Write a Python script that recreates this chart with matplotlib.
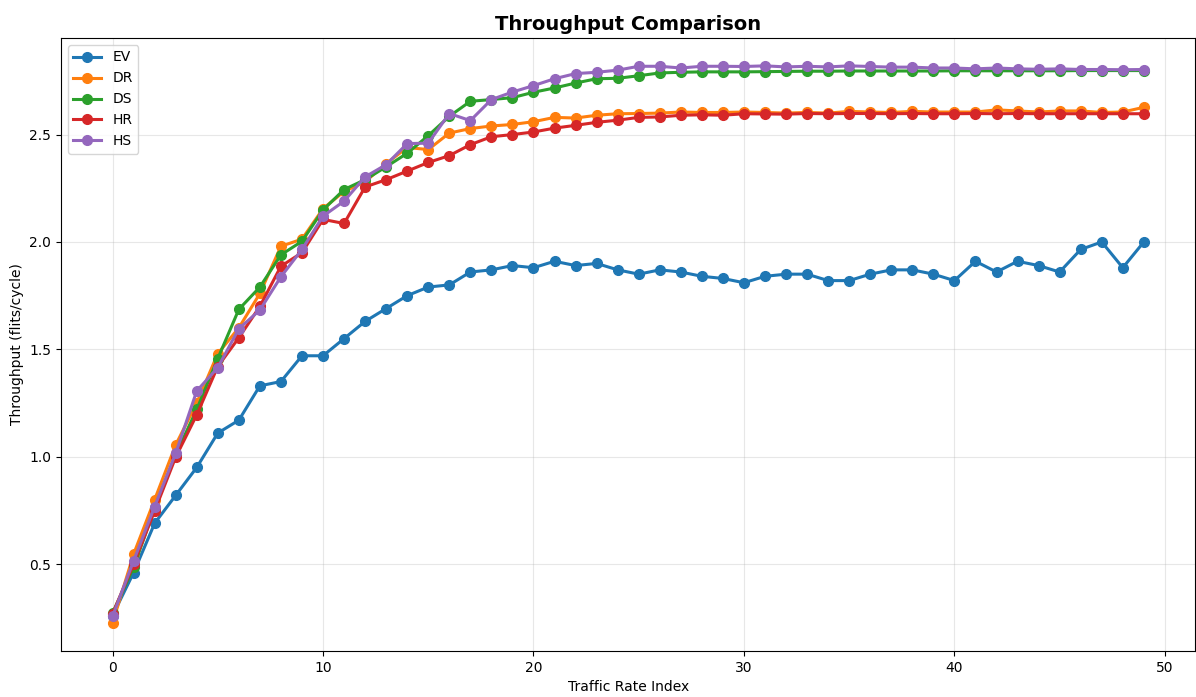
import numpy as np
import matplotlib
matplotlib.use('Agg')
import matplotlib.pyplot as plt

x = list(range(50))

ev = [0.26, 0.46, 0.69, 0.82, 0.95, 1.11, 1.17, 1.33, 1.35, 1.47,
      1.47, 1.55, 1.63, 1.69, 1.75, 1.79, 1.80, 1.86, 1.87, 1.89,
      1.88, 1.91, 1.89, 1.90, 1.87, 1.85, 1.87, 1.86, 1.84, 1.83,
      1.81, 1.84, 1.85, 1.85, 1.82, 1.82, 1.85, 1.87, 1.87, 1.85,
      1.82, 1.91, 1.86, 1.91, 1.89, 1.86, 1.965, 2.00, 1.88, 2.00]
dr = [0.225, 0.546, 0.80, 1.055, 1.25, 1.48, 1.60, 1.76, 1.98, 2.013,
      2.155, 2.235, 2.28, 2.365, 2.44, 2.43, 2.507, 2.528, 2.54, 2.547,
      2.56, 2.58, 2.577, 2.59, 2.597, 2.598, 2.60, 2.605, 2.603, 2.603,
      2.605, 2.603, 2.60, 2.603, 2.60, 2.608, 2.605, 2.603, 2.608, 2.605,
      2.605, 2.605, 2.615, 2.61, 2.605, 2.61, 2.61, 2.603, 2.605, 2.627]
ds = [0.272, 0.485, 0.76, 1.01, 1.22, 1.457, 1.686, 1.79, 1.94, 2.003,
      2.149, 2.244, 2.29, 2.35, 2.413, 2.495, 2.585, 2.655, 2.663, 2.672,
      2.697, 2.717, 2.74, 2.76, 2.762, 2.774, 2.787, 2.79, 2.792, 2.792,
      2.792, 2.793, 2.794, 2.795, 2.795, 2.796, 2.796, 2.796, 2.796, 2.796,
      2.797, 2.797, 2.797, 2.797, 2.797, 2.797, 2.798, 2.798, 2.798, 2.798]
hr = [0.268, 0.50, 0.748, 0.998, 1.195, 1.42, 1.554, 1.70, 1.887, 1.95,
      2.105, 2.086, 2.256, 2.29, 2.33, 2.37, 2.402, 2.453, 2.49, 2.50,
      2.512, 2.53, 2.543, 2.557, 2.567, 2.58, 2.582, 2.59, 2.592, 2.59,
      2.597, 2.596, 2.595, 2.598, 2.597, 2.598, 2.598, 2.597, 2.598, 2.597,
      2.597, 2.598, 2.597, 2.598, 2.597, 2.597, 2.597, 2.597, 2.597, 2.597]
hs = [0.257, 0.515, 0.768, 1.016, 1.306, 1.415, 1.596, 1.683, 1.838, 1.965,
      2.12, 2.19, 2.303, 2.36, 2.458, 2.46, 2.598, 2.565, 2.663, 2.698,
      2.728, 2.76, 2.784, 2.79, 2.80, 2.818, 2.818, 2.81, 2.818, 2.818,
      2.817, 2.82, 2.815, 2.818, 2.815, 2.82, 2.817, 2.814, 2.814, 2.81,
      2.81, 2.806, 2.81, 2.806, 2.804, 2.806, 2.803, 2.803, 2.802, 2.803]

labels = ['EV', 'DR', 'DS', 'HR', 'HS']
series = [ev, dr, ds, hr, hs]

fig, ax = plt.subplots(figsize=(11.96, 6.97), dpi=100)
for lab, vals in zip(labels, series):
    ax.plot(x, vals, marker='o', linewidth=2.2, markersize=7, label=lab)

ax.set_title('Throughput Comparison', fontsize=14, fontweight='bold')
ax.set_xlabel('Traffic Rate Index')
ax.set_ylabel('Throughput (flits/cycle)')
ax.grid(True, alpha=0.3)
ax.legend(loc='upper left')

fig.subplots_adjust(left=0.051, right=0.9995, top=0.9455, bottom=0.066)
fig.savefig('out.png')
